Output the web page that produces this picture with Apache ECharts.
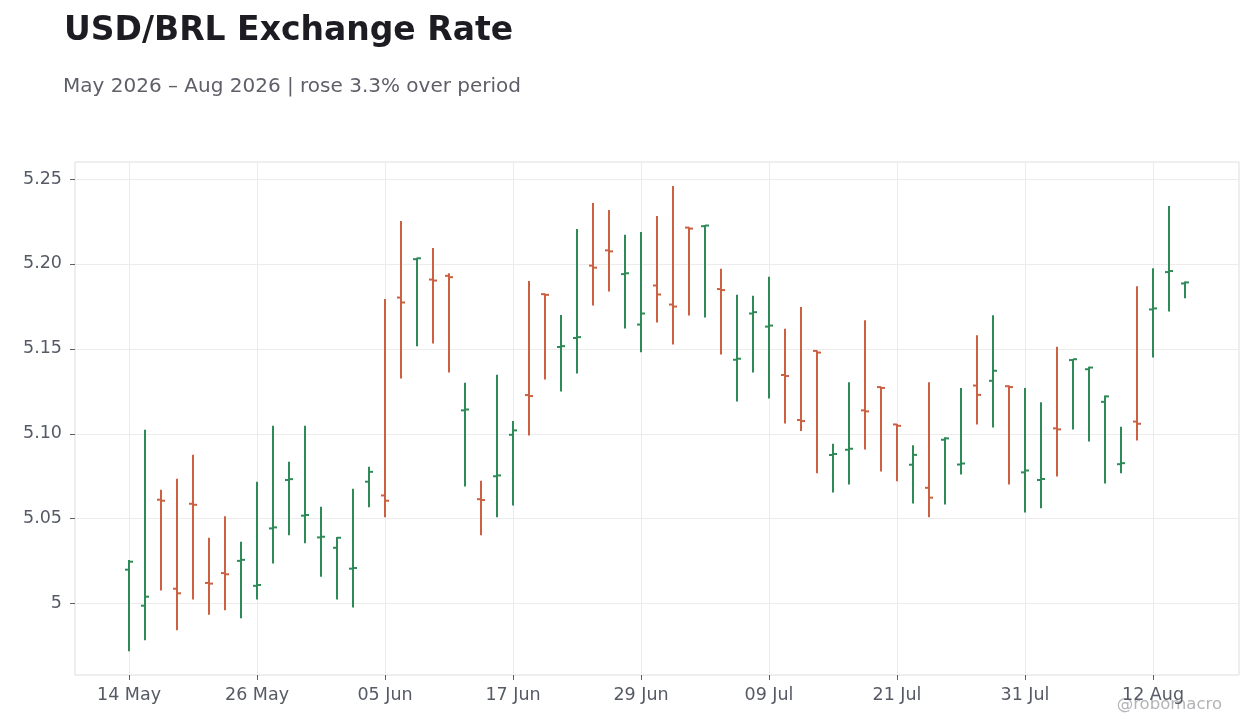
<!DOCTYPE html>
<html>
<head>
<meta charset="utf-8">
<script src="https://cdn.jsdelivr.net/npm/echarts@6/dist/echarts.min.js"></script>
<style>
  html, body { margin: 0; padding: 0; background: #ffffff; }
  #main { width: 1260px; height: 728px; }
</style>
</head>
<body>
<div id="main"></div>
<script>
// trading days shown on the axis
var dates = ['14 May', '15 May', '18 May', '19 May', '20 May', '21 May', '22 May', '25 May',
  '26 May', '27 May', '28 May', '29 May', '01 Jun', '02 Jun', '03 Jun', '04 Jun',
  '05 Jun', '08 Jun', '09 Jun', '10 Jun', '11 Jun', '12 Jun', '15 Jun', '16 Jun',
  '17 Jun', '18 Jun', '19 Jun', '22 Jun', '23 Jun', '24 Jun', '25 Jun', '26 Jun',
  '29 Jun', '30 Jun', '01 Jul', '02 Jul', '03 Jul', '06 Jul', '07 Jul', '08 Jul',
  '09 Jul', '10 Jul', '13 Jul', '14 Jul', '15 Jul', '16 Jul', '17 Jul', '20 Jul',
  '21 Jul', '22 Jul', '23 Jul', '24 Jul', '27 Jul', '28 Jul', '29 Jul', '30 Jul',
  '31 Jul', '03 Aug', '04 Aug', '05 Aug', '06 Aug', '07 Aug', '10 Aug', '11 Aug',
  '12 Aug', '13 Aug', '14 Aug'];

// OHLC, one value per day
var opens = [5.0200, 4.9988, 5.0612, 5.0088, 5.0588, 5.0122, 5.0180, 5.0252, 5.0105, 5.0443,
  5.0728, 5.0518, 5.0390, 5.0329, 5.0206, 5.0718, 5.0637, 5.1802, 5.2028, 5.1908,
  5.1930, 5.1138, 5.0615, 5.0750, 5.0994, 5.1228, 5.1822, 5.1511, 5.1564, 5.1990,
  5.2080, 5.1940, 5.1643, 5.1873, 5.1761, 5.2214, 5.2222, 5.1852, 5.1436, 5.1708,
  5.1631, 5.1346, 5.1081, 5.1488, 5.0875, 5.0906, 5.1138, 5.1275, 5.1055, 5.0818,
  5.0682, 5.0965, 5.0819, 5.1284, 5.1312, 5.1280, 5.0773, 5.0728, 5.1032, 5.1434,
  5.1380, 5.1188, 5.0821, 5.1072, 5.1732, 5.1952, 5.1885];
var highs = [5.0257, 5.1024, 5.0671, 5.0735, 5.0876, 5.0388, 5.0514, 5.0365, 5.0718, 5.1047,
  5.0835, 5.1047, 5.0571, 5.0392, 5.0676, 5.0806, 5.1794, 5.2253, 5.2037, 5.2094,
  5.1945, 5.1300, 5.0724, 5.1347, 5.1076, 5.1900, 5.1824, 5.1700, 5.2206, 5.2359,
  5.2318, 5.2171, 5.2188, 5.2282, 5.2459, 5.2216, 5.2229, 5.1971, 5.1818, 5.1812,
  5.1924, 5.1618, 5.1747, 5.1490, 5.0941, 5.1304, 5.1669, 5.1277, 5.1057, 5.0933,
  5.1304, 5.0980, 5.1269, 5.1580, 5.1698, 5.1284, 5.1269, 5.1186, 5.1512, 5.1441,
  5.1394, 5.1225, 5.1041, 5.1869, 5.1975, 5.2341, 5.1896];
var lows = [4.9720, 4.9784, 5.0078, 4.9843, 5.0024, 4.9935, 4.9961, 4.9914, 5.0024, 5.0237,
  5.0402, 5.0355, 5.0159, 5.0024, 4.9978, 5.0567, 5.0508, 5.1325, 5.1516, 5.1531,
  5.1361, 5.0690, 5.0402, 5.0508, 5.0578, 5.0990, 5.1320, 5.1249, 5.1355, 5.1755,
  5.1837, 5.1620, 5.1480, 5.1655, 5.1525, 5.1696, 5.1684, 5.1467, 5.1190, 5.1361,
  5.1208, 5.1061, 5.1016, 5.0767, 5.0655, 5.0702, 5.0908, 5.0778, 5.0720, 5.0590,
  5.0508, 5.0584, 5.0761, 5.1055, 5.1037, 5.0702, 5.0537, 5.0561, 5.0749, 5.1025,
  5.0955, 5.0708, 5.0767, 5.0961, 5.1449, 5.1720, 5.1798];
var closes = [5.0247, 5.0041, 5.0606, 5.0061, 5.0582, 5.0118, 5.0173, 5.0258, 5.0110, 5.0449,
  5.0733, 5.0522, 5.0394, 5.0388, 5.0210, 5.0776, 5.0606, 5.1773, 5.2033, 5.1902,
  5.1922, 5.1143, 5.0610, 5.0755, 5.1020, 5.1222, 5.1818, 5.1516, 5.1569, 5.1978,
  5.2074, 5.1945, 5.1708, 5.1820, 5.1749, 5.2208, 5.2226, 5.1846, 5.1442, 5.1716,
  5.1637, 5.1340, 5.1075, 5.1478, 5.0881, 5.0912, 5.1132, 5.1270, 5.1047, 5.0876,
  5.0624, 5.0973, 5.0825, 5.1229, 5.1371, 5.1275, 5.0784, 5.0734, 5.1026, 5.1439,
  5.1390, 5.1220, 5.0827, 5.1059, 5.1738, 5.1958, 5.1891];

// axis ticks: y values, and x positions (day index) that get a date label
var yTicks = [5, 5.05, 5.1, 5.15, 5.2, 5.25];
var xTicks = [0, 8, 16, 24, 32, 40, 48, 56, 64];

var upColor = '#2e8b57';
var downColor = '#cd6040';

var myChart = echarts.init(document.getElementById('main'));

var rows = [];
for (var i = 0; i < dates.length; i++) {
    rows.push([i, opens[i], highs[i], lows[i], closes[i]]);
}

function renderOhlc(params, api) {
    var x = api.value(0);
    var o = api.coord([x, api.value(1)]);
    var h = api.coord([x, api.value(2)]);
    var l = api.coord([x, api.value(3)]);
    var c = api.coord([x, api.value(4)]);
    var color = api.value(4) >= api.value(1) ? upColor : downColor;
    var st = { stroke: color, lineWidth: 2 };
    var cx = Math.round(h[0]);
    return {
        type: 'group',
        children: [
            { type: 'line', shape: { x1: cx, y1: h[1], x2: cx, y2: l[1] }, style: st },
            { type: 'line', shape: { x1: cx - 4, y1: o[1], x2: cx, y2: o[1] }, style: st },
            { type: 'line', shape: { x1: cx, y1: c[1], x2: cx + 4, y2: c[1] }, style: st }
        ]
    };
}

var option = {
    backgroundColor: '#ffffff',
    animation: false,
    textStyle: { fontFamily: 'DejaVu Sans' },
    title: [{
        text: 'USD/BRL Exchange Rate',
        left: 59,
        top: 10,
        textStyle: { fontSize: 33, fontWeight: 'bold', color: '#1c1c22', fontFamily: 'DejaVu Sans' }
    }, {
        text: 'May 2026 – Aug 2026 | rose 3.3% over period',
        left: 58,
        top: 72,
        textStyle: { fontSize: 20, fontWeight: 'normal', color: '#5f5f69', fontFamily: 'DejaVu Sans' }
    }],
    grid: {
        left: 75,
        right: 21,
        top: 162,
        bottom: 53,
        show: true,
        borderColor: '#dedede',
        borderWidth: 1
    },
    xAxis: {
        type: 'value',
        min: -3.375,
        max: 69.375,
        axisLine: { show: false, onZero: false },
        axisTick: {
            show: true,
            customValues: xTicks,
            length: 5,
            lineStyle: { color: '#5a5f69' }
        },
        axisLabel: {
            customValues: xTicks,
            margin: 11,
            fontSize: 17.5,
            color: '#555a65',
            fontFamily: 'DejaVu Sans',
            formatter: function (v) {
                return dates[Math.round(v)];
            }
        },
        splitLine: { show: true, lineStyle: { color: '#ececec' } }
    },
    yAxis: {
        type: 'value',
        min: 4.958,
        max: 5.26,
        axisLine: { show: false, onZero: false },
        axisTick: {
            show: true,
            customValues: yTicks,
            length: 5,
            lineStyle: { color: '#5a5f69' }
        },
        axisLabel: {
            customValues: yTicks,
            margin: 13,
            fontSize: 17.5,
            color: '#555a65',
            fontFamily: 'DejaVu Sans',
            formatter: function (v) {
                return v === 5 ? '5' : v.toFixed(2);
            }
        },
        splitLine: { show: true, lineStyle: { color: '#ececec' } }
    },
    graphic: [{
        type: 'text',
        right: 38,
        top: 696,
        style: {
            text: '@robomacro',
            fontSize: 16.5,
            fill: '#b4b4b8',
            fontFamily: 'DejaVu Sans'
        }
    }],
    series: [{
        type: 'custom',
        renderItem: renderOhlc,
        dimensions: ['x', 'open', 'high', 'low', 'close'],
        encode: { x: 0, y: [1, 2, 3, 4] },
        data: rows
    }]
};

myChart.setOption(option);
</script>
</body>
</html>
